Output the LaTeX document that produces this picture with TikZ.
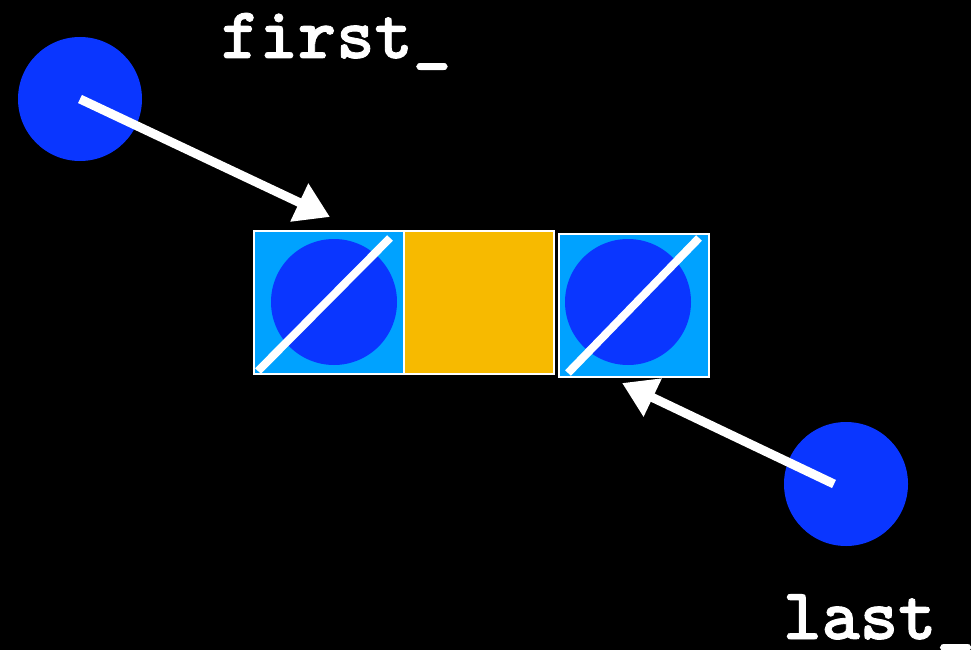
\documentclass[tikz,border=0pt]{standalone}
\usepackage{fontspec}
\newfontfamily\codefont[FakeBold=1.2]{lmmonolt10-bold.otf}
\usetikzlibrary{arrows.meta, positioning}

\definecolor{ptrblue}{RGB}{10,54,255}
\definecolor{cellblue}{RGB}{0,162,255}
\definecolor{cellgold}{RGB}{247,186,0}

\begin{document}
\begin{tikzpicture}[
  x=1pt, y=-1pt,
  ptr/.style={circle, fill=ptrblue, minimum size=124pt, inner sep=0pt},
  cell/.style={draw=white, line width=2pt, minimum width=150pt, minimum height=143pt, inner sep=0pt, outer sep=0pt},
  nil/.style={circle, fill=ptrblue, minimum size=126pt, inner sep=0pt},
  slash/.style={white, line width=8pt},
  arr/.style={-{Triangle[length=34pt, width=40pt]}, white, line width=9pt},
  lbl/.style={text=white, font=\fontsize{73}{73}\selectfont\codefont, inner sep=0pt},
]
  \fill[black] (0,0) rectangle (971,650);
  \useasboundingbox (0,0) rectangle (971,650);

  \node[cell, fill=cellblue] (head) at (329,302.5) {};
  \node[cell, fill=cellgold, right=0pt of head] (mid) {};
  \node[cell, fill=cellblue, right=5pt of mid, yshift=-3pt] (tail) {};

  \node[nil] (headnil) at (334,302) {};
  \node[nil] (tailnil) at (628,302) {};
  \draw[slash] ([shift={(4,-3)}]head.south west) -- ([shift={(-14,7)}]head.north east);
  \draw[slash] ([shift={(9,-4)}]tail.south west) -- ([shift={(-10,4)}]tail.north east);

  \node[ptr] (first) at (80,99) {};
  \node[ptr] (last) at (846,484) {};
  \coordinate (firsttip) at (330,217);
  \coordinate (lasttip) at (622,383);
  \draw[arr] (first.center) -- (firsttip);
  \draw[arr] ([xshift=-12pt]last.center) -- (lasttip);

  \node[lbl, anchor=base west] (firstlbl) at (221,58) {first\_};
  \node[lbl, anchor=base west] (lastlbl) at (783,639) {last\_};
\end{tikzpicture}
\end{document}
